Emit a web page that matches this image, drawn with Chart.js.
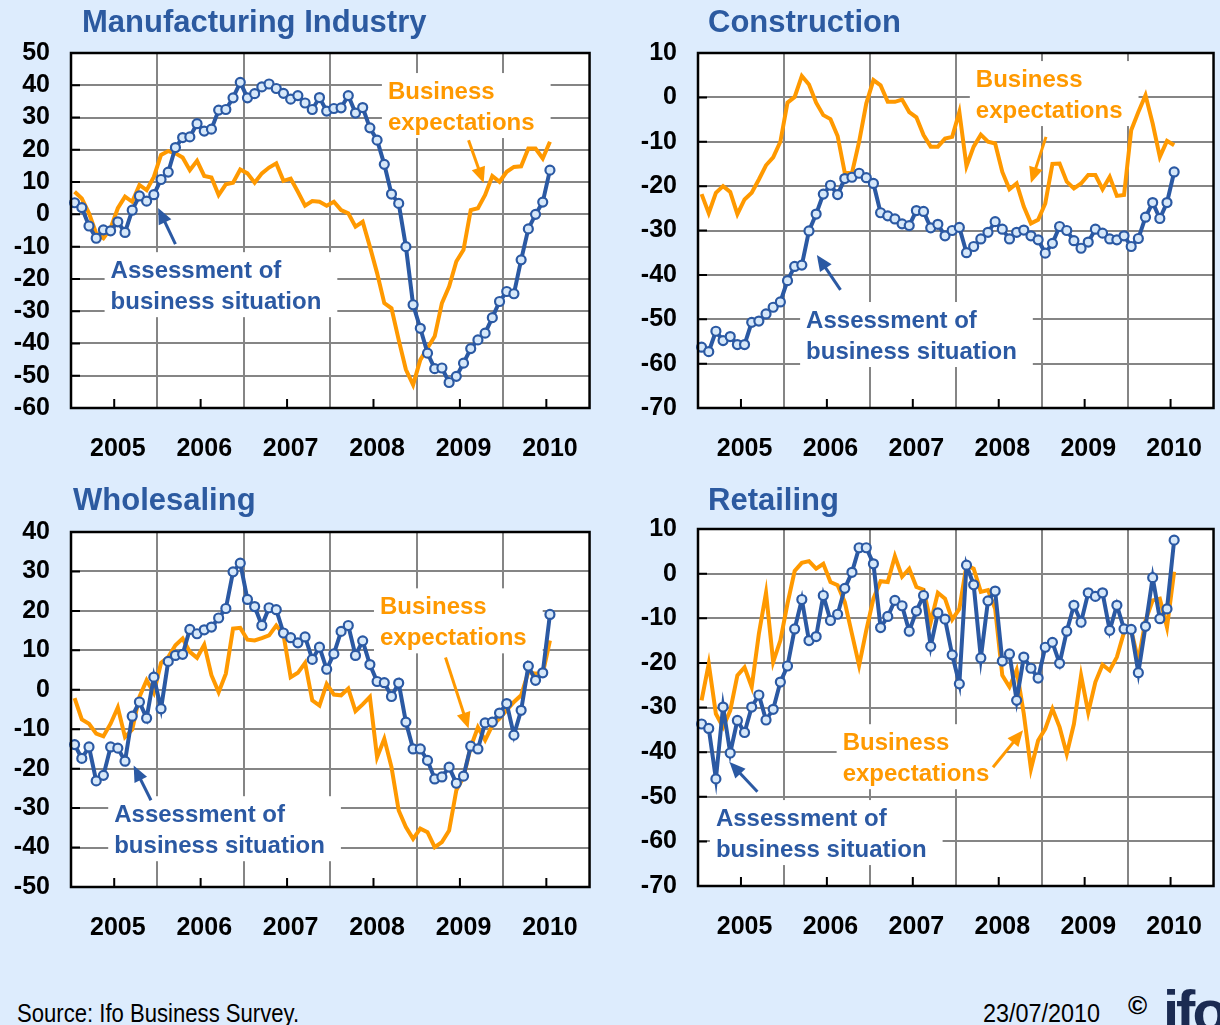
<!DOCTYPE html>
<html>
<head>
<meta charset="utf-8">
<script src="https://cdn.jsdelivr.net/npm/chart.js@4.4.1/dist/chart.umd.min.js"></script>
<style>
  body { margin: 0; width: 1220px; height: 1025px; background: #ddecfd; position: relative; overflow: hidden;
         font-family: "Liberation Sans", Arial, sans-serif; }
  canvas { position: absolute; }
  .ttl { position: absolute; font-weight: bold; font-size: 31px; line-height: 30px; color: #2c5aa0; white-space: nowrap; z-index: 2; }
  .foot { position: absolute; font-size: 26px; line-height: 26px; color: #000; white-space: nowrap; transform-origin: left top; }
</style>
</head>
<body>
<canvas id="mfg" width="612" height="463" style="left:0;top:17px"></canvas>
<canvas id="con" width="626" height="463" style="left:610px;top:17px"></canvas>
<canvas id="whs" width="612" height="459" style="left:0;top:496px"></canvas>
<canvas id="ret" width="626" height="462" style="left:610px;top:493px"></canvas>

<div class="ttl" style="left:82px;top:7px">Manufacturing Industry</div>
<div class="ttl" style="left:708px;top:7px">Construction</div>
<div class="ttl" style="left:73px;top:485px">Wholesaling</div>
<div class="ttl" style="left:708px;top:485px">Retailing</div>

<div class="foot" style="left:17px;top:1000px;transform:scaleX(0.85)">Source: Ifo Business Survey.</div>
<div class="foot" style="left:983px;top:1000px;transform:scaleX(0.9)">23/07/2010</div>
<div style="position:absolute;left:1128px;top:992px;font-weight:bold;font-size:26px;line-height:26px">©</div>
<div style="position:absolute;left:1163px;top:982px;font-weight:bold;font-size:58px;line-height:58px;color:#1b2b52;letter-spacing:-3px">ifo</div>

<script>
// monthly survey data, Jan 2005 .. Jul 2010 (balances)
const years = ['2005', '2006', '2007', '2008', '2009', '2010'];
const months = years.flatMap(y => ['01','02','03','04','05','06','07','08','09','10','11','12'].map(m => m + '/' + y));

const mfgSituation = [3.6, 2.1, -3.6, -7.4, -4.8, -5.1, -2.3, -5.6, 1.3, 5.7, 4.1, 6.1,
  10.8, 13.1, 20.7, 23.8, 24.0, 28.1, 25.8, 26.4, 32.3, 32.5, 36.1, 40.9,
  36.1, 37.4, 39.5, 40.4, 39.0, 37.5, 35.7, 36.8, 34.5, 32.5, 36.2, 32.0,
  32.8, 33.0, 36.8, 31.4, 33.1, 26.8, 23.0, 15.5, 6.3, 3.4, -10.0, -28.0,
  -35.3, -43.0, -47.8, -47.6, -52.1, -50.2, -46.1, -41.6, -38.9, -36.8, -32.0, -27.0,
  -23.9, -24.6, -14.1, -4.5, 0.0, 3.8, 13.7];
const mfgExpectations = [7.0, 4.9, 0.3, -5.9, -7.4, -4.3, 1.9, 5.5, 3.9, 9.1, 7.5, 11.6,
  18.4, 19.6, 18.9, 17.6, 13.7, 16.6, 11.9, 11.4, 6.0, 9.3, 9.8, 13.9,
  12.7, 9.8, 12.7, 14.5, 15.8, 10.4, 11.1, 7.0, 2.7, 4.1, 3.9, 2.7,
  3.9, 1.3, 0.3, -3.8, -2.3, -10.0, -18.2, -27.5, -29.1, -38.9, -48.1, -52.8,
  -45.1, -41.4, -37.8, -27.5, -22.4, -14.6, -11.0, 1.3, 1.9, 6.0, 11.9, 10.1,
  13.2, 14.7, 14.9, 20.4, 20.4, 17.3, 22.5];

const conSituation = [-56.3, -57.3, -52.7, -54.8, -53.9, -55.7, -55.7, -50.7, -50.4, -48.8, -47.3, -46.1,
  -41.3, -38.1, -37.8, -30.1, -26.3, -21.8, -19.8, -21.9, -18.3, -18.0, -17.1, -18.1,
  -19.4, -26.0, -26.7, -27.4, -28.5, -28.9, -25.5, -25.7, -29.4, -28.6, -31.2, -30.0,
  -29.3, -35.0, -33.6, -31.9, -30.4, -28.0, -29.7, -31.9, -30.4, -29.9, -31.2, -32.1,
  -35.1, -32.9, -29.1, -30.0, -32.3, -34.0, -32.6, -29.7, -30.6, -31.9, -32.1, -31.2,
  -33.6, -31.8, -27.0, -23.7, -27.3, -23.7, -16.8];
const conExpectations = [-21.8, -26.1, -21.5, -20.0, -21.3, -26.3, -23.0, -21.5, -18.5, -15.3, -13.5, -10.0,
  -1.2, 0.1, 4.8, 2.9, -1.2, -4.0, -4.9, -8.7, -17.0, -17.1, -10.0, -1.4,
  3.9, 2.7, -1.0, -1.0, -0.5, -3.3, -4.5, -8.5, -11.1, -11.1, -9.3, -8.9,
  -3.3, -15.5, -11.1, -8.4, -10.0, -10.4, -16.8, -20.7, -19.4, -24.6, -28.4, -27.6,
  -23.9, -15.0, -14.9, -19.0, -20.5, -19.4, -17.5, -17.5, -20.7, -17.9, -22.2, -22.0,
  -7.4, -3.3, 0.5, -5.9, -13.4, -9.8, -10.8];

const whsSituation = [-13.9, -17.4, -14.5, -23.1, -21.7, -14.5, -14.8, -18.1, -6.7, -3.1, -7.2, 3.2,
  -4.8, 7.2, 8.7, 9.0, 15.3, 14.2, 15.2, 15.9, 18.2, 20.6, 29.9, 32.1,
  22.9, 21.1, 16.3, 20.8, 20.3, 14.4, 13.2, 11.9, 13.4, 7.7, 10.8, 5.2,
  9.1, 14.8, 16.3, 8.7, 12.4, 6.4, 2.1, 1.8, -1.7, 1.7, -8.2, -15.0,
  -15.0, -17.9, -22.6, -22.1, -19.6, -23.7, -21.9, -14.3, -15.0, -8.4, -8.2, -5.9,
  -3.5, -11.5, -5.2, 6.0, 2.4, 4.3, 19.1];
const whsExpectations = [-2.1, -7.5, -8.6, -11.1, -11.8, -8.6, -4.5, -12.0, -10.1, -1.8, 2.4, -0.8,
  6.8, 8.3, 11.3, 13.0, 9.6, 8.1, 11.4, 3.7, -0.6, 4.1, 15.5, 15.7,
  12.7, 12.5, 13.1, 13.8, 16.3, 14.0, 3.2, 4.3, 6.8, -2.7, -4.0, 1.5,
  -1.2, -1.4, 0.3, -5.4, -3.7, -1.8, -17.1, -12.4, -19.6, -30.6, -34.8, -37.8,
  -35.2, -36.1, -39.9, -38.6, -35.7, -25.5, -22.1, -14.5, -9.5, -12.8, -9.0, -7.3,
  -5.2, -3.1, -1.4, 4.5, 4.1, 4.1, 12.5];

const retSituation = [-33.7, -34.7, -46.0, -29.9, -40.2, -32.9, -35.6, -29.9, -27.2, -32.8, -30.4, -24.3,
  -20.7, -12.4, -5.8, -15.0, -14.1, -4.9, -10.5, -9.1, -3.3, 0.3, 5.8, 5.8,
  2.2, -12.1, -9.6, -6.0, -7.2, -12.9, -8.4, -4.9, -16.3, -8.8, -10.2, -18.2,
  -24.7, 1.9, -2.5, -18.9, -6.1, -3.9, -19.6, -18.0, -28.4, -18.7, -21.2, -23.4,
  -16.5, -15.4, -20.1, -12.9, -7.1, -10.9, -4.3, -5.1, -4.3, -12.7, -7.1, -12.4,
  -12.5, -22.2, -11.8, -0.9, -10.1, -7.9, 7.5];
const retExpectations = [-28.4, -20.2, -31.4, -34.4, -30.7, -22.8, -21.0, -25.4, -13.5, -4.3, -19.8, -15.0,
  -6.7, 0.6, 2.4, 2.8, 1.1, 2.2, -1.9, -2.6, -6.4, -13.5, -20.6, -12.7,
  -5.6, -1.7, -1.9, 3.9, -0.7, 1.1, -3.0, -3.6, -10.9, -4.3, -5.6, -10.3,
  -7.9, 1.9, 1.1, -4.1, -3.7, -7.9, -22.8, -25.4, -21.6, -31.4, -43.8, -37.4,
  -34.8, -30.3, -34.4, -40.4, -33.7, -22.8, -31.1, -24.3, -20.4, -21.7, -18.7, -13.1,
  -12.7, -19.5, -10.5, -6.0, -5.6, -12.0, 0.4];

const BLUE = '#2b59a3';
const ORANGE = '#ff9900';
const EXP = ['Business', 'expectations'];
const ASS = ['Assessment of', 'business situation'];

// white boxes, labels and arrows, drawn under the lines
const panelDeco = {
  id: 'deco',
  beforeDraw(chart) {
    const {ctx, chartArea: a} = chart;
    ctx.save();
    ctx.fillStyle = '#fff';
    ctx.fillRect(a.left, a.top, a.right - a.left, a.bottom - a.top);
    ctx.restore();
  },
  beforeDatasetsDraw(chart, args, opts) {
    const {ctx, scales: {x, y}} = chart;
    ctx.save();
    ctx.font = 'bold 24px "Liberation Sans", Arial, sans-serif';
    for (const n of opts.notes || []) {
      const px = x.getPixelForValue(n.at[0]), py = y.getPixelForValue(n.at[1]);
      const w = Math.max(...n.lines.map(t => ctx.measureText(t).width));
      ctx.fillStyle = '#fff';
      ctx.fillRect(px - 6, py - 19, w + 22, 31 * (n.lines.length - 1) + 34);
      ctx.fillStyle = n.color;
      ctx.textBaseline = 'middle';
      n.lines.forEach((t, k) => ctx.fillText(t, px, py + 31 * k));
      const ax = x.getPixelForValue(n.arrow[0]), ay = y.getPixelForValue(n.arrow[1]);
      const bx = x.getPixelForValue(n.arrow[2]), by = y.getPixelForValue(n.arrow[3]);
      const ang = Math.atan2(by - ay, bx - ax);
      const c = Math.cos(ang), s = Math.sin(ang);
      ctx.strokeStyle = n.color;
      ctx.lineWidth = 3;
      ctx.beginPath();
      ctx.moveTo(ax, ay);
      ctx.lineTo(bx - 12 * c, by - 12 * s);
      ctx.stroke();
      ctx.beginPath();
      ctx.moveTo(bx, by);
      ctx.lineTo(bx - 16 * c - 7 * s, by - 16 * s + 7 * c);
      ctx.lineTo(bx - 16 * c + 7 * s, by - 16 * s - 7 * c);
      ctx.closePath();
      ctx.fill();
    }
    ctx.restore();
  },
  afterDatasetsDraw(chart) {
    const {ctx, chartArea: a, scales: {x, y}} = chart;
    ctx.save();
    ctx.strokeStyle = '#000';
    ctx.lineWidth = 2;
    ctx.beginPath();
    y.ticks.forEach(t => {
      const py = y.getPixelForValue(t.value);
      ctx.moveTo(a.left, py); ctx.lineTo(a.left + 9, py);
    });
    x.ticks.forEach((t, i) => {
      if (i % 12 !== 6) return;
      const px = x.getPixelForValue(i - 0.5);
      ctx.moveTo(px, a.bottom); ctx.lineTo(px, a.bottom - 9);
    });
    ctx.stroke();
    ctx.lineWidth = 2.5;
    ctx.strokeRect(a.left, a.top, a.right - a.left, a.bottom - a.top);
    ctx.restore();
  }
};

function drawPanel(id, situation, expectations, yMin, yMax, notes, lay) {
  return new Chart(document.getElementById(id), {
    type: 'line',
    data: {
      labels: months,
      datasets: [{
        data: situation,
        borderColor: BLUE,
        borderWidth: 4,
        pointRadius: 4.5,
        pointBorderWidth: 2.2,
        pointBackgroundColor: '#d6e8fa',
        pointBorderColor: BLUE,
        tension: 0
      }, {
        data: expectations,
        borderColor: ORANGE,
        borderWidth: 4,
        pointRadius: 0,
        tension: 0
      }]
    },
    plugins: [panelDeco],
    options: {
      responsive: false,
      animation: false,
      events: [],
      layout: {padding: 0},
      plugins: {
        legend: {display: false},
        tooltip: {enabled: false},
        deco: {notes: notes}
      },
      scales: {
        x: {
          offset: true,
          grid: {
            offset: true,
            drawTicks: false,
            lineWidth: 2,
            color: ctx => (ctx.index % 12 === 0 ? '#858585' : 'rgba(0,0,0,0)')
          },
          border: {display: false},
          ticks: {
            autoSkip: false,
            maxRotation: 0,
            minRotation: 0,
            padding: 26,
            color: '#000',
            font: {family: '"Liberation Sans", Arial, sans-serif', size: 25, weight: 'bold'},
            callback: (v, i) => (i % 12 === 6 ? years[Math.floor(i / 12)] : '')
          },
          afterFit: s => { s.height = lay.xh; }
        },
        y: {
          min: yMin,
          max: yMax,
          grid: {drawTicks: false, lineWidth: 2, color: '#858585'},
          border: {display: false},
          ticks: {
            stepSize: 10,
            autoSkip: false,
            padding: 21,
            color: '#000',
            font: {family: '"Liberation Sans", Arial, sans-serif', size: 25, weight: 'bold'}
          },
          afterFit: s => { s.width = lay.yw; }
        }
      }
    }
  });
}

drawPanel('mfg', mfgSituation, mfgExpectations, -60, 50, [
  {lines: EXP, color: ORANGE, at: [43.5, 37.9], arrow: [54.7, 23.0, 56.8, 9.7]},
  {lines: ASS, color: BLUE, at: [5.0, -17.6], arrow: [14.0, -9.2, 11.6, 2.0]}
], {yw: 71, xh: 72});

drawPanel('con', conSituation, conExpectations, -70, 10, [
  {lines: EXP, color: ORANGE, at: [38.3, 3.9], arrow: [48.1, -8.9, 46.0, -19.3]},
  {lines: ASS, color: BLUE, at: [14.6, -50.4], arrow: [19.4, -43.4, 16.1, -35.5]}
], {yw: 88, xh: 72});

drawPanel('whs', whsSituation, whsExpectations, -50, 40, [
  {lines: EXP, color: ORANGE, at: [42.4, 20.9], arrow: [51.5, 8.2, 54.7, -9.8]},
  {lines: ASS, color: BLUE, at: [5.5, -31.8], arrow: [10.6, -28.0, 8.2, -19.2]}
], {yw: 71, xh: 68});

drawPanel('ret', retSituation, retExpectations, -70, 10, [
  {lines: EXP, color: ORANGE, at: [19.7, -38.0], arrow: [40.7, -43.4, 44.9, -35.1]},
  {lines: ASS, color: BLUE, at: [2.0, -55.0], arrow: [7.8, -48.9, 3.9, -42.2]}
], {yw: 88, xh: 69});
</script>
</body>
</html>
